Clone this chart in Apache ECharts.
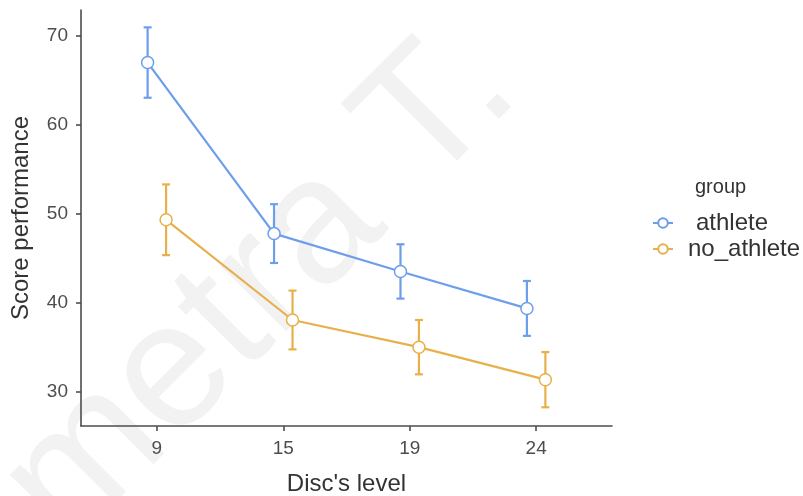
<!DOCTYPE html>
<html>
<head>
<meta charset="utf-8">
<script src="https://cdn.jsdelivr.net/npm/echarts@6/dist/echarts.min.js"></script>
<style>
  html, body { margin: 0; padding: 0; background: #fff; }
  #chart { width: 803px; height: 496px; }
</style>
</head>
<body>
<div id="chart"></div>
<script>
// Disc levels (x categories)
const levels = ['9', '15', '19', '24'];
const groups = ['athlete', 'no_athlete'];
// Mean score per level and its standard error, by group
const athleteMean = [67.0, 47.8, 43.55, 39.4];
const athleteErr = [3.95, 3.3, 3.05, 3.08];
const noAthleteMean = [49.35, 38.1, 35.05, 31.4];
const noAthleteErr = [3.97, 3.3, 3.05, 3.1];
const yTicks = [30, 40, 50, 60, 70];

const colors = ['#6D9EEB', '#E8B04A'];
const dodge = 0.073;
const font = '"Liberation Sans", Arial, sans-serif';

function pts(means, errs, off) {
  return means.map((m, i) => [i + 1 + off, m, m - errs[i], m + errs[i]]);
}
const seriesData = [
  pts(athleteMean, athleteErr, -dodge),
  pts(noAthleteMean, noAthleteErr, dodge)
];

// Vertical error bars with caps, drawn through the axis scales
function errorBars(idx) {
  return {
    type: 'custom',
    name: groups[idx] + ' (se)',
    z: 1,
    silent: true,
    encode: { x: 0, y: [2, 3] },
    data: seriesData[idx],
    renderItem: function (params, api) {
      const x = api.value(0);
      const lo = api.coord([x, api.value(2)]);
      const hi = api.coord([x, api.value(3)]);
      const w = 4;
      const st = { stroke: colors[idx], lineWidth: 2.2 };
      return {
        type: 'group',
        children: [
          { type: 'line', shape: { x1: lo[0], y1: lo[1], x2: hi[0], y2: hi[1] }, style: st },
          { type: 'line', shape: { x1: lo[0] - w, y1: lo[1], x2: lo[0] + w, y2: lo[1] }, style: st },
          { type: 'line', shape: { x1: hi[0] - w, y1: hi[1], x2: hi[0] + w, y2: hi[1] }, style: st }
        ]
      };
    }
  };
}

function meanLine(idx) {
  return {
    type: 'line',
    name: groups[idx],
    z: 2,
    data: seriesData[idx].map(d => [d[0], d[1]]),
    symbol: 'circle',
    symbolSize: 12,
    lineStyle: { color: colors[idx], width: 2.2 },
    itemStyle: { color: '#fff', borderColor: colors[idx], borderWidth: 1.5 },
    emphasis: { disabled: true }
  };
}

const chart = echarts.init(document.getElementById('chart'), null, { renderer: 'canvas' });
chart.setOption({
  backgroundColor: '#fff',
  animation: false,
  grid: { left: 81, right: 191, top: 10, bottom: 70, outerBoundsMode: 'none', containLabel: false },
  xAxis: {
    type: 'value',
    min: 0.4,
    max: 4.6,
    name: "Disc's level",
    nameLocation: 'middle',
    nameGap: 46,
    nameTextStyle: { fontFamily: font, fontSize: 24, color: '#333' },
    axisLine: { show: true, lineStyle: { color: '#4d4d4d', width: 1.6 } },
    axisTick: { show: true, length: 5, customValues: [1, 2, 3, 4], lineStyle: { color: '#4d4d4d', width: 1.6 } },
    axisLabel: {
      customValues: [1, 2, 3, 4],
      formatter: v => levels[Math.round(v) - 1],
      fontFamily: font, fontSize: 19, color: '#4d4d4d', margin: 13
    },
    splitLine: { show: false }
  },
  yAxis: {
    type: 'value',
    min: 26.2,
    max: 72.9,
    name: 'Score performance',
    nameLocation: 'middle',
    nameGap: 48,
    nameTextStyle: { fontFamily: font, fontSize: 24, color: '#333' },
    axisLine: { show: true, lineStyle: { color: '#4d4d4d', width: 1.6 } },
    axisTick: { show: true, length: 5, customValues: yTicks, lineStyle: { color: '#4d4d4d', width: 1.6 } },
    axisLabel: {
      customValues: yTicks,
      fontFamily: font, fontSize: 19, color: '#4d4d4d', margin: 13
    },
    splitLine: { show: false }
  },
  legend: {
    orient: 'vertical',
    left: 652,
    top: 211,
    padding: 0,
    itemWidth: 20,
    itemHeight: 12,
    itemGap: 2,
    data: [
      { name: 'athlete', textStyle: { padding: [0, 0, 0, 18] } },
      { name: 'no_athlete', textStyle: { padding: [0, 0, 0, 10] } }
    ],
    textStyle: { fontFamily: font, fontSize: 24, color: '#333' },
    selectedMode: false
  },
  graphic: [
    {
      type: 'text',
      silent: true,
      z: -10,
      x: 96, y: 578,
      rotation: Math.PI / 4,
      style: {
        text: 'metra T.',
        font: '178px ' + font,
        fill: '#f2f2f2',
        textAlign: 'left',
        textVerticalAlign: 'bottom'
      }
    },
    {
      type: 'text',
      left: 695, top: 177,
      style: { text: 'group', font: '20px ' + font, fill: '#333' }
    }
  ],
  series: [errorBars(0), errorBars(1), meanLine(0), meanLine(1)]
});
</script>
</body>
</html>
